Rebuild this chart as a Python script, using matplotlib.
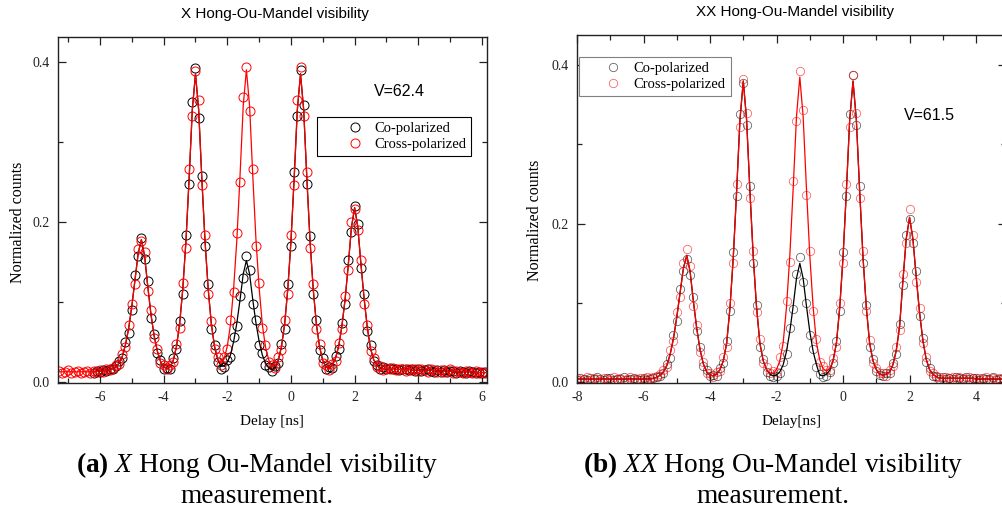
### Hong-Ou-Mandel visibility, X and XX
import numpy as np
import matplotlib
matplotlib.use("Agg")
import matplotlib.pyplot as plt
from matplotlib.ticker import MultipleLocator, FixedLocator

nan = np.nan

plt.rcParams['font.family'] = ['Liberation Serif', 'DejaVu Serif']
plt.rcParams['mathtext.fontset'] = 'custom'
plt.rcParams['mathtext.rm'] = 'Liberation Serif'
plt.rcParams['mathtext.it'] = 'Liberation Serif:italic'
plt.rcParams['mathtext.bf'] = 'Liberation Serif:bold'
plt.rcParams['axes.unicode_minus'] = False

# ---- panel (a): X, delay grid -7.3 .. 6.1 ns (0.1 ns bins)
delay_a = np.linspace(-7.3, 6.1, 135)

# cross-polarized fit
fit_cross_a = [
    0.013, 0.013, 0.013, 0.013, 0.013, 0.013, 0.013, 0.013, 0.013, 0.013,
    0.013, 0.013, 0.014, 0.014, 0.014, 0.015, 0.016, 0.017, 0.019, 0.024,
    0.032, 0.047, 0.067, 0.095, 0.128, 0.161, 0.178, 0.158, 0.120, 0.085,
    0.058, 0.039, 0.026, 0.019, 0.017, 0.019, 0.027, 0.044, 0.072, 0.116,
    0.176, 0.254, 0.340, 0.385, 0.340, 0.254, 0.176, 0.116, 0.072, 0.045,
    0.029, 0.023, 0.029, 0.045, 0.072, 0.118, 0.178, 0.258, 0.345, 0.390,
    0.345, 0.258, 0.178, 0.118, 0.072, 0.044, 0.028, 0.020, 0.020, 0.028,
    0.044, 0.072, 0.116, 0.176, 0.254, 0.340, 0.385, 0.340, 0.254, 0.176,
    0.116, 0.072, 0.044, 0.027, 0.019, 0.017, 0.021, 0.030, 0.045, 0.070,
    0.103, 0.146, 0.193, 0.218, 0.194, 0.147, 0.104, 0.068, 0.042, 0.028,
    0.021, 0.018, 0.017, 0.017, 0.017, 0.017, 0.016, 0.016, 0.016, 0.016,
    0.016, 0.015, 0.015, 0.015, 0.015, 0.015, 0.015, 0.015, 0.014, 0.014,
    0.014, 0.014, 0.014, 0.014, 0.013, 0.013, 0.013, 0.013, 0.013, 0.013,
    0.013, 0.012, 0.012, 0.012, 0.012]

# co-polarized fit
fit_co_a = [
    nan, nan, nan, nan, nan, nan, nan, nan, nan, nan,
    nan, 0.013, 0.014, 0.014, 0.014, 0.015, 0.016, 0.017, 0.019, 0.024,
    0.032, 0.047, 0.067, 0.095, 0.128, 0.161, 0.178, 0.158, 0.120, 0.085,
    0.058, 0.039, 0.026, 0.019, 0.017, 0.019, 0.027, 0.044, 0.072, 0.116,
    0.176, 0.254, 0.340, 0.385, 0.340, 0.254, 0.176, 0.116, 0.072, 0.044,
    0.028, 0.020, 0.020, 0.025, 0.034, 0.051, 0.074, 0.103, 0.135, 0.152,
    0.135, 0.103, 0.074, 0.051, 0.034, 0.024, 0.018, 0.016, 0.018, 0.027,
    0.044, 0.072, 0.116, 0.176, 0.254, 0.340, 0.385, 0.340, 0.254, 0.176,
    0.116, 0.072, 0.044, 0.027, 0.019, 0.017, 0.021, 0.030, 0.045, 0.070,
    0.103, 0.146, 0.193, 0.218, 0.194, 0.147, 0.104, 0.068, 0.042, 0.028,
    0.021, 0.018, 0.017, 0.017, 0.017, 0.017, 0.016, 0.016, 0.016, 0.016,
    0.016, 0.015, 0.015, 0.015, 0.015, 0.015, 0.015, 0.015, 0.014, 0.014,
    0.014, 0.014, 0.014, 0.014, 0.013, 0.013, 0.013, 0.013, 0.013, 0.013,
    0.013, 0.012, 0.012, 0.012, 0.012]

# measured counts, cross-polarized
cross_a = [
    0.014, 0.012, 0.013, 0.015, 0.012, 0.013, 0.014, 0.012, 0.013, 0.014,
    0.012, 0.014, 0.013, 0.015, 0.013, 0.016, 0.015, 0.018, 0.021, 0.023,
    0.035, 0.044, 0.072, 0.098, 0.122, 0.166, 0.176, 0.162, 0.114, 0.090,
    0.055, 0.042, 0.024, 0.021, 0.016, 0.021, 0.025, 0.048, 0.068, 0.124,
    0.168, 0.266, 0.332, 0.388, 0.352, 0.246, 0.184, 0.110, 0.076, 0.041,
    0.031, 0.021, 0.032, 0.041, 0.078, 0.112, 0.186, 0.250, 0.356, 0.393,
    0.338, 0.266, 0.170, 0.124, 0.068, 0.047, 0.025, 0.022, 0.018, 0.031,
    0.040, 0.078, 0.110, 0.184, 0.246, 0.352, 0.393, 0.332, 0.262, 0.168,
    0.122, 0.066, 0.048, 0.024, 0.021, 0.015, 0.023, 0.027, 0.049, 0.066,
    0.108, 0.140, 0.200, 0.216, 0.190, 0.153, 0.098, 0.072, 0.039, 0.030,
    0.019, 0.020, 0.015, 0.018, 0.016, 0.018, 0.015, 0.017, 0.016, 0.014,
    0.017, 0.015, 0.016, 0.014, 0.016, 0.015, 0.013, 0.016, 0.015, 0.013,
    0.015, 0.013, 0.014, 0.016, 0.012, 0.014, 0.013, 0.011, 0.014, 0.013,
    0.012, 0.014, 0.011, 0.013, 0.012]

# measured counts, co-polarized
co_a = [
    nan, nan, nan, nan, nan, nan, nan, nan, nan, nan,
    nan, 0.012, 0.014, 0.013, 0.015, 0.014, 0.017, 0.016, 0.020, 0.026,
    0.030, 0.050, 0.062, 0.090, 0.134, 0.158, 0.180, 0.154, 0.126, 0.080,
    0.060, 0.036, 0.028, 0.017, 0.018, 0.017, 0.030, 0.041, 0.076, 0.110,
    0.184, 0.248, 0.350, 0.392, 0.330, 0.258, 0.170, 0.122, 0.066, 0.046,
    0.025, 0.017, 0.019, 0.028, 0.031, 0.056, 0.070, 0.108, 0.130, 0.158,
    0.140, 0.098, 0.078, 0.047, 0.036, 0.021, 0.019, 0.014, 0.020, 0.024,
    0.048, 0.066, 0.122, 0.170, 0.262, 0.332, 0.390, 0.346, 0.248, 0.182,
    0.110, 0.078, 0.040, 0.030, 0.017, 0.019, 0.018, 0.033, 0.042, 0.074,
    0.098, 0.152, 0.188, 0.220, 0.198, 0.142, 0.110, 0.064, 0.046, 0.026,
    0.022, 0.016, 0.019, 0.016, 0.018, 0.016, 0.017, 0.015, 0.017, 0.016,
    0.015, 0.016, 0.014, 0.016, 0.014, 0.015, 0.016, 0.014, 0.013, 0.015,
    0.013, 0.015, 0.013, 0.014, 0.014, 0.012, 0.014, 0.013, 0.012, 0.014,
    0.013, 0.012, 0.013, 0.011, 0.013]

# ---- panel (b): XX, delay grid -8.0 .. 5.0 ns
delay_b = np.linspace(-8.0, 5.0, 131)

fit_cross_b = [
    0.004, 0.004, 0.004, 0.004, 0.004, 0.004, 0.004, 0.004, 0.004, 0.004,
    0.004, 0.004, 0.004, 0.004, 0.004, 0.004, 0.004, 0.004, 0.004, 0.004,
    0.004, 0.004, 0.004, 0.005, 0.006, 0.009, 0.013, 0.021, 0.035, 0.055,
    0.082, 0.113, 0.144, 0.160, 0.140, 0.102, 0.068, 0.041, 0.023, 0.013,
    0.009, 0.008, 0.010, 0.016, 0.027, 0.049, 0.094, 0.158, 0.241, 0.331,
    0.380, 0.331, 0.241, 0.158, 0.094, 0.049, 0.027, 0.016, 0.011, 0.011,
    0.016, 0.027, 0.050, 0.095, 0.160, 0.244, 0.335, 0.385, 0.335, 0.244,
    0.160, 0.095, 0.050, 0.028, 0.017, 0.014, 0.017, 0.027, 0.049, 0.094,
    0.158, 0.241, 0.331, 0.380, 0.331, 0.241, 0.158, 0.094, 0.049, 0.027,
    0.016, 0.010, 0.009, 0.010, 0.013, 0.022, 0.040, 0.070, 0.128, 0.181,
    0.208, 0.181, 0.133, 0.088, 0.053, 0.029, 0.016, 0.010, 0.007, 0.005,
    0.005, 0.005, 0.005, 0.005, 0.005, 0.005, 0.005, 0.005, 0.005, 0.005,
    0.004, 0.004, 0.004, 0.004, 0.004, 0.004, 0.004, 0.004, 0.004, 0.004,
    0.004]

fit_co_b = [
    0.004, 0.004, 0.004, 0.004, 0.004, 0.004, 0.004, 0.004, 0.004, 0.004,
    0.004, 0.004, 0.004, 0.004, 0.004, 0.004, 0.004, 0.004, 0.004, 0.004,
    0.004, 0.004, 0.004, 0.005, 0.006, 0.009, 0.013, 0.021, 0.035, 0.055,
    0.082, 0.113, 0.144, 0.160, 0.140, 0.102, 0.068, 0.041, 0.023, 0.013,
    0.009, 0.008, 0.010, 0.016, 0.027, 0.049, 0.094, 0.158, 0.241, 0.331,
    0.380, 0.331, 0.241, 0.158, 0.094, 0.049, 0.027, 0.016, 0.010, 0.008,
    0.009, 0.013, 0.022, 0.039, 0.064, 0.096, 0.131, 0.150, 0.131, 0.096,
    0.064, 0.039, 0.022, 0.009, 0.008, 0.010, 0.015, 0.027, 0.049, 0.094,
    0.158, 0.241, 0.331, 0.380, 0.331, 0.241, 0.158, 0.094, 0.049, 0.027,
    0.016, 0.010, 0.009, 0.010, 0.013, 0.022, 0.040, 0.070, 0.128, 0.181,
    0.208, 0.181, 0.133, 0.088, 0.053, 0.029, 0.016, 0.010, 0.007, 0.005,
    0.005, 0.005, 0.005, 0.005, 0.005, 0.005, 0.005, 0.005, 0.005, 0.005,
    0.004, 0.004, 0.004, 0.004, 0.004, 0.004, 0.004, 0.004, 0.004, 0.004,
    0.004]

cross_b = [
    0.005, 0.003, 0.004, 0.006, 0.003, 0.005, 0.004, 0.002, 0.005, 0.004,
    0.003, 0.006, 0.004, 0.005, 0.003, 0.004, 0.006, 0.004, 0.003, 0.005,
    0.004, 0.006, 0.005, 0.006, 0.008, 0.010, 0.016, 0.019, 0.040, 0.052,
    0.088, 0.108, 0.150, 0.168, 0.146, 0.096, 0.072, 0.038, 0.026, 0.011,
    0.011, 0.007, 0.013, 0.014, 0.032, 0.045, 0.100, 0.150, 0.250, 0.322,
    0.383, 0.340, 0.232, 0.166, 0.088, 0.054, 0.024, 0.019, 0.012, 0.014,
    0.013, 0.032, 0.046, 0.102, 0.152, 0.254, 0.330, 0.393, 0.344, 0.236,
    0.166, 0.090, 0.055, 0.025, 0.020, 0.016, 0.015, 0.031, 0.045, 0.100,
    0.150, 0.250, 0.322, 0.388, 0.340, 0.232, 0.166, 0.090, 0.053, 0.024,
    0.018, 0.012, 0.011, 0.008, 0.015, 0.020, 0.044, 0.066, 0.136, 0.176,
    0.218, 0.186, 0.126, 0.094, 0.050, 0.032, 0.014, 0.012, 0.006, 0.007,
    0.004, 0.006, 0.005, 0.007, 0.004, 0.006, 0.005, 0.004, 0.006, 0.005,
    0.003, 0.005, 0.004, 0.006, 0.003, 0.005, 0.004, 0.005, 0.003, 0.004,
    0.005]

co_b = [
    0.003, 0.005, 0.004, 0.003, 0.005, 0.004, 0.006, 0.004, 0.003, 0.005,
    0.005, 0.003, 0.004, 0.004, 0.006, 0.003, 0.004, 0.005, 0.004, 0.003,
    0.005, 0.003, 0.004, 0.005, 0.006, 0.008, 0.011, 0.023, 0.030, 0.059,
    0.077, 0.118, 0.140, 0.156, 0.135, 0.108, 0.064, 0.044, 0.021, 0.015,
    0.008, 0.009, 0.008, 0.018, 0.024, 0.052, 0.090, 0.164, 0.235, 0.338,
    0.378, 0.324, 0.248, 0.150, 0.098, 0.045, 0.029, 0.013, 0.008, 0.006,
    0.008, 0.012, 0.025, 0.036, 0.068, 0.092, 0.136, 0.158, 0.126, 0.100,
    0.060, 0.042, 0.019, 0.010, 0.006, 0.008, 0.013, 0.024, 0.052, 0.090,
    0.164, 0.235, 0.338, 0.387, 0.324, 0.248, 0.150, 0.098, 0.045, 0.029,
    0.014, 0.009, 0.008, 0.011, 0.012, 0.024, 0.036, 0.074, 0.122, 0.186,
    0.206, 0.176, 0.140, 0.084, 0.056, 0.026, 0.018, 0.008, 0.008, 0.004,
    0.006, 0.004, 0.005, 0.004, 0.006, 0.005, 0.004, 0.006, 0.004, 0.005,
    0.005, 0.003, 0.005, 0.004, 0.004, 0.006, 0.003, 0.004, 0.005, 0.003,
    0.004]

labels = ['Co-polarized', 'Cross-polarized']
titles = ['X Hong-Ou-Mandel visibility', 'XX Hong-Ou-Mandel visibility']
visibility = ['V=62.4', 'V=61.5']
xlabels = ['Delay [ns]', 'Delay[ns]']
captions = [r'$\mathbf{(a)}$ $X$ Hong Ou-Mandel visibility',
            r'$\mathbf{(b)}$ $XX$ Hong Ou-Mandel visibility']

W, H = 1003, 509
fig = plt.figure(figsize=(W / 100, H / 100), dpi=100)

ax1 = fig.add_axes([58 / W, 1 - 383 / H, 429 / W, 346 / H])
ax2 = fig.add_axes([577 / W, 1 - 383 / H, 429 / W, 348 / H])

# points first, fit lines on top (red last)
ax1.plot(delay_a, co_a, 'o', mfc='none', mec='black', ms=6.5, mew=0.7, label=labels[0])
ax1.plot(delay_a, cross_a, 'o', mfc='none', mec='red', ms=6.5, mew=0.7, label=labels[1])
ax1.plot(delay_a, fit_co_a, '-', color='black', lw=0.9)
ax1.plot(delay_a, fit_cross_a, '-', color='red', lw=0.9)

ax2.plot(delay_b, co_b, 'o', mfc='none', mec='black', ms=6, mew=0.6, alpha=0.6, label=labels[0])
ax2.plot(delay_b, cross_b, 'o', mfc='none', mec='red', ms=6, mew=0.6, alpha=0.6, label=labels[1])
ax2.plot(delay_b, fit_co_b, '-', color='black', lw=0.9)
ax2.plot(delay_b, fit_cross_b, '-', color='red', lw=0.9)

ax1.set_xlim(-7.32, 6.16)
ax1.set_ylim(-0.001, 0.431)
ax2.set_xlim(-8.0, 4.9)
ax2.set_ylim(-0.001, 0.438)

for ax, xt in [(ax1, range(-6, 7, 2)), (ax2, range(-8, 5, 2))]:
    ax.xaxis.set_major_locator(FixedLocator(list(xt)))
    ax.xaxis.set_minor_locator(MultipleLocator(1))
    ax.yaxis.set_major_locator(FixedLocator([0.0, 0.2, 0.4]))
    ax.yaxis.set_minor_locator(MultipleLocator(0.1))
    ax.set_yticklabels(['0.0', '0.2', '0.4'])
    ax.tick_params(which='both', direction='in', top=True, right=True,
                   width=0.9, labelsize=10, colors='#222222')
    ax.tick_params(which='major', length=6, pad=6)
    ax.tick_params(which='minor', length=3.5)
    for s in ax.spines.values():
        s.set_linewidth(1.0)
        s.set_color('#222222')

# legends
leg1 = ax1.legend(loc='upper left', bbox_to_anchor=(0.604, 0.769), borderaxespad=0,
                  fancybox=False, edgecolor='black', framealpha=1, fontsize=10.5,
                  handlelength=4.5, handletextpad=-0.95, borderpad=0.35, labelspacing=0.2)
leg1.get_frame().set_linewidth(0.8)
leg2 = ax2.legend(loc='upper left', bbox_to_anchor=(0.005, 0.937), borderaxespad=0,
                  fancybox=False, edgecolor='#808080', framealpha=1, fontsize=10.5,
                  handlelength=4.0, handletextpad=-0.6, borderpad=0.35, labelspacing=0.2)
leg2.get_frame().set_linewidth(0.8)

# titles, labels, V text
fig.text(275 / W, 1 - 14 / H, titles[0], family='Liberation Sans', fontsize=11,
         ha='center', va='center')
fig.text(795 / W, 1 - 12 / H, titles[1], family='Liberation Sans', fontsize=11,
         ha='center', va='center')
fig.text(399 / W, 1 - 91 / H, visibility[0], family='Liberation Sans', fontsize=11.5,
         ha='center', va='center')
fig.text(929 / W, 1 - 115 / H, visibility[1], family='Liberation Sans', fontsize=11.5,
         ha='center', va='center')
fig.text(18 / W, 1 - 222 / H, 'Normalized counts', rotation=90, fontsize=11.5,
         ha='center', va='center')
fig.text(535 / W, 1 - 220 / H, 'Normalized counts', rotation=90, fontsize=11.5,
         ha='center', va='center')
fig.text(272 / W, 1 - 422 / H, xlabels[0], fontsize=11, ha='center', va='center')
fig.text(792 / W, 1 - 422 / H, xlabels[1], fontsize=11, ha='center', va='center')

# captions under the plots
fig.text(257 / W, 1 - 472 / H, captions[0], fontsize=19.7, ha='center', va='baseline')
fig.text(257 / W, 1 - 503 / H, 'measurement.', fontsize=19.7, ha='center', va='baseline')
fig.text(773 / W, 1 - 472 / H, captions[1], fontsize=19.7, ha='center', va='baseline')
fig.text(773 / W, 1 - 503 / H, 'measurement.', fontsize=19.7, ha='center', va='baseline')

fig.savefig('out.png', dpi=100)
plt.close(fig)
